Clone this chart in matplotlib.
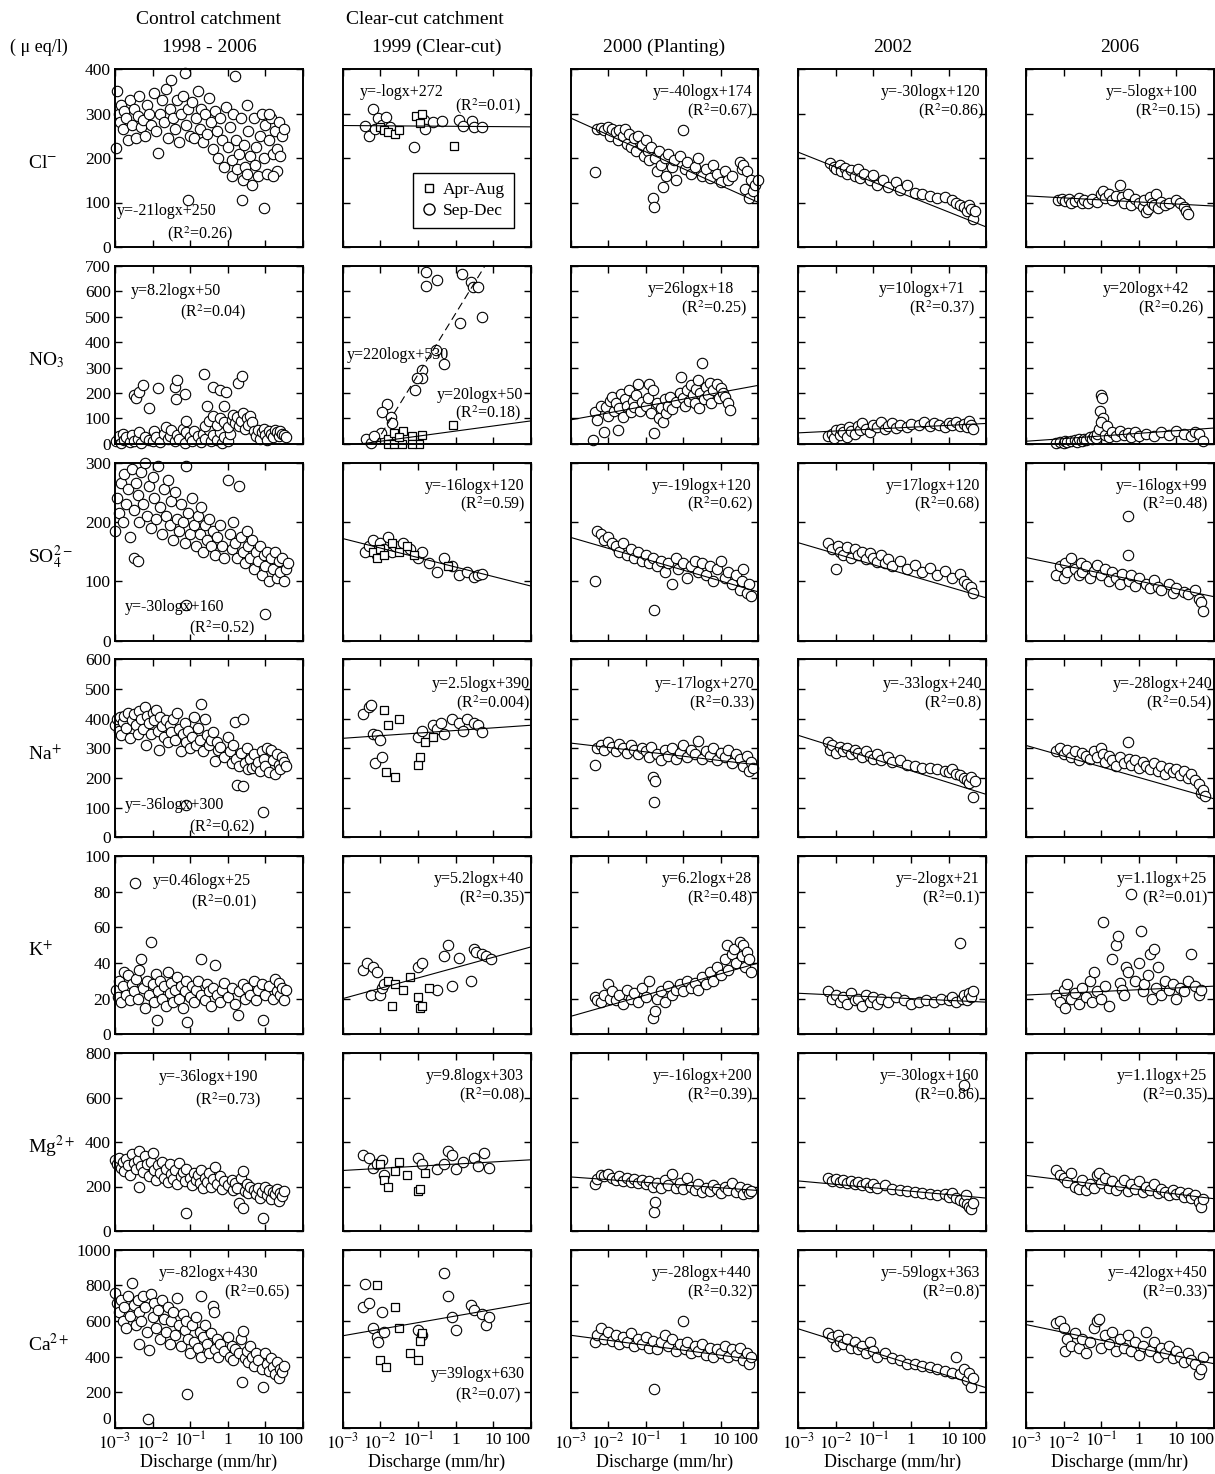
import numpy as np
import matplotlib
matplotlib.use("Agg")
import matplotlib.pyplot as plt
from matplotlib.lines import Line2D
from matplotlib.ticker import NullLocator

plt.rcParams['font.family'] = ['Liberation Serif', 'DejaVu Serif']
plt.rcParams['mathtext.fontset'] = 'stix'

# points are (log10 discharge, concentration in ueq/l)
# ---------------- Cl- ----------------
cl_control = [(-2.97,222),(-2.95,350),(-2.9,300),(-2.88,280),(-2.85,320),(-2.8,265),(-2.75,305),(-2.7,290),
              (-2.65,240),(-2.6,330),(-2.55,275),(-2.5,310),(-2.45,245),(-2.4,295),(-2.35,340),(-2.3,270),
              (-2.25,285),(-2.2,250),(-2.15,320),(-2.1,300),(-2.05,275),(-1.95,345),(-1.9,260),(-1.85,212),
              (-1.8,300),(-1.75,330),(-1.7,280),(-1.65,355),(-1.6,245),(-1.55,310),(-1.5,375),(-1.45,290),
              (-1.4,265),(-1.35,330),(-1.3,235),(-1.25,300),(-1.2,340),(-1.15,390),(-1.1,275),(-1.06,105),
              (-1.05,310),(-1.0,250),(-0.95,325),(-0.9,245),(-0.85,290),(-0.8,350),(-0.75,265),(-0.7,310),
              (-0.65,235),(-0.6,300),(-0.55,255),(-0.5,335),(-0.45,280),(-0.4,220),(-0.35,305),(-0.3,260),
              (-0.25,200),(-0.2,290),(-0.15,240),(-0.1,180),(-0.05,315),(0.0,225),(0.05,270),(0.1,195),
              (0.12,160),(0.15,300),(0.2,385),(0.22,240),(0.25,175),(0.3,210),(0.35,290),(0.37,105),
              (0.4,150),(0.42,230),(0.45,180),(0.5,320),(0.52,165),(0.55,260),(0.6,205),(0.65,140),
              (0.7,290),(0.72,185),(0.75,225),(0.8,160),(0.85,250),(0.9,300),(0.95,88),(0.95,200),
              (1.0,275),(1.05,165),(1.1,240),(1.15,290),(1.2,210),(1.25,260),(1.3,220),(1.32,170),
              (1.35,280),(1.4,205),(1.45,250),(1.5,265),(1.2,160),(1.1,300)]
cl_1999_sep = [(-2.4,272),(-2.3,250),(-2.2,310),(-2.15,265),(-2.05,290),(-1.95,275),(-1.85,292),(-1.75,270),
               (-1.1,224),(-0.85,285),(-0.8,265),(-0.6,280),(-0.35,283),(0.1,285),(0.2,272),(0.45,283),
               (0.5,270),(0.7,270)]
cl_1999_apr = [(-2.0,270),(-1.9,262),(-1.8,258),(-1.6,255),(-1.5,262),(-1.05,295),(-0.9,298),(-0.95,278),
               (-0.05,228)]
cl_2000 = [(-2.35,168),(-2.3,265),(-2.2,268),(-2.1,262),(-2.0,270),(-1.95,250),(-1.9,265),(-1.8,258),
           (-1.75,240),(-1.7,262),(-1.6,250),(-1.55,265),(-1.5,232),(-1.45,255),(-1.4,225),(-1.3,245),
           (-1.25,215),(-1.2,250),(-1.1,230),(-1.05,205),(-1.0,240),(-0.95,215),(-0.9,195),(-0.85,225),
           (-0.8,110),(-0.78,90),(-0.75,200),(-0.7,170),(-0.65,215),(-0.6,185),(-0.55,135),(-0.5,200),
           (-0.45,160),(-0.4,210),(-0.3,180),(-0.25,195),(-0.2,150),(-0.1,205),(0.0,263),(0.05,175),
           (0.1,190),(0.2,165),(0.3,180),(0.4,200),(0.5,160),(0.6,175),(0.7,155),(0.8,185),(0.9,165),
           (1.0,145),(1.1,170),(1.2,150),(1.3,160),(1.5,190),(1.55,175),(1.6,185),(1.65,130),(1.7,170),
           (1.75,110),(1.8,150),(1.85,125),(1.9,140),(2.0,150)]
cl_2002 = [(-2.15,188),(-2.05,180),(-2.0,175),(-1.9,185),(-1.85,170),(-1.75,178),(-1.7,165),(-1.6,172),
           (-1.5,160),(-1.4,175),(-1.35,155),(-1.25,165),(-1.1,150),(-1.0,162),(-0.9,140),(-0.75,150),
           (-0.6,135),(-0.4,145),(-0.3,128),(-0.1,140),(0.1,122),(0.3,118),(0.5,115),(0.7,110),(0.9,112),
           (1.1,105),(1.2,100),(1.3,95),(1.4,90),(1.5,82),(1.55,95),(1.6,85),(1.65,62),(1.7,80)]
cl_2006 = [(-2.15,105),(-2.05,107),(-1.95,104),(-1.85,108),(-1.8,100),(-1.7,103),(-1.6,110),(-1.5,98),
           (-1.45,105),(-1.35,100),(-1.25,108),(-1.1,102),(-1.0,118),(-0.95,125),(-0.9,110),(-0.8,120),
           (-0.7,105),(-0.6,115),(-0.5,140),(-0.45,112),(-0.4,100),(-0.3,120),(-0.2,95),(-0.1,108),
           (0.0,100),(0.1,90),(0.15,105),(0.2,78),(0.25,85),(0.3,112),(0.35,100),(0.4,95),(0.45,118),
           (0.5,88),(0.6,102),(0.7,95),(0.8,100),(1.0,105),(1.1,98),(1.2,90),(1.25,82),(1.3,75)]
# fitted lines, value at 10^-3 and at 10^2 (columns 1999..2006)
cl_fit = [(273, 270), (290, 100), (213, 45), (115, 92)]
cl_eq = ["y=-21logx+250", "y=-logx+272", "y=-40logx+174", "y=-30logx+120", "y=-5logx+100"]
cl_r2 = ["0.26", "0.01", "0.67", "0.86", "0.15"]

# ---------------- NO3- ----------------
no3_control = [(-2.98,10),(-2.9,30),(-2.85,5),(-2.8,40),(-2.75,15),(-2.7,25),(-2.6,8),(-2.55,35),(-2.5,12),
               (-2.4,20),(-2.35,45),(-2.3,5),(-2.2,28),(-2.1,15),(-2.0,10),(-1.95,50),(-1.9,25),(-1.8,8),
               (-1.7,40),(-1.65,65),(-1.6,18),(-1.55,30),(-1.5,55),(-1.4,10),(-1.35,35),(-1.3,20),(-1.2,60),
               (-1.15,5),(-1.1,45),(-1.0,25),(-0.95,12),(-0.9,50),(-0.8,30),(-0.7,8),(-0.65,40),(-0.6,20),
               (-0.5,55),(-0.45,10),(-0.4,35),(-0.3,15),(-0.2,45),(-0.15,5),(-0.1,25),(0.0,12),(0.05,40),
               (-2.5,190),(-2.45,182),(-2.35,205),(-2.25,230),(-2.1,140),(-1.85,220),(-1.4,225),(-1.35,250),
               (-1.38,178),(-1.15,195),(-1.12,88),(-0.62,275),(-0.55,150),(-0.4,225),(-0.2,210),(-0.1,150),
               (-0.05,205),(0.28,240),(0.38,265),
               (-0.6,70),(-0.5,90),(-0.4,110),(-0.3,75),(-0.2,100),(-0.1,85),(0.0,65),(0.1,95),(0.15,115),
               (0.2,80),(0.25,105),(0.3,70),(0.35,90),(0.4,120),(0.45,60),(0.5,100),(0.55,75),(0.6,110),
               (0.65,85),(0.7,50),(0.75,30),(0.8,55),(0.85,20),(0.9,45),(0.95,60),(1.0,35),(1.05,15),
               (1.1,50),(1.15,40),(1.2,25),(1.25,55),(1.3,45),(1.35,30),(1.4,50),(1.45,40),(1.5,35),(1.55,25)]
no3_1999_sep = [(-0.79,674),(-0.5,644),(-0.79,622),(0.18,668),(0.4,635),(0.47,615),(0.6,615),(0.13,475),
                (0.71,500),(-0.52,368),(-0.3,313),(-0.88,290),(-0.88,257),(-1.02,257),(-1.07,211),
                (-1.81,155),(-1.95,126),(-1.73,107),(-1.7,83),(-1.99,44),(-2.39,20),(-2.25,3),(-2.17,29)]
no3_1999_apr = [(-1.79,20),(-1.64,44),(-1.39,52),(-1.17,29),(-0.88,35),(-0.06,74),(-1.79,0),(-1.64,0),
                (-1.43,0),(-0.96,0),(-1.15,0),(-1.5,25)]
no3_2000 = [(-2.4,16),(-2.35,126),(-2.3,95),(-2.2,150),(-2.1,48),(-2.05,143),(-2.0,110),(-1.95,170),
            (-1.9,185),(-1.85,130),(-1.8,160),(-1.75,55),(-1.7,140),(-1.65,195),(-1.6,107),(-1.55,175),
            (-1.5,150),(-1.45,211),(-1.4,125),(-1.35,170),(-1.3,145),(-1.25,190),(-1.2,237),(-1.15,130),
            (-1.1,165),(-1.0,150),(-0.95,180),(-0.9,237),(-0.85,120),(-0.8,211),(-0.78,44),(-0.7,160),
            (-0.65,100),(-0.6,140),(-0.55,87),(-0.5,175),(-0.45,120),(-0.4,150),(-0.35,185),(-0.3,135),
            (-0.2,165),(-0.1,200),(-0.05,263),(0.0,180),(0.05,150),(0.1,210),(0.15,170),(0.2,230),
            (0.25,190),(0.3,160),(0.35,215),(0.4,250),(0.42,140),(0.45,200),(0.5,318),(0.55,175),
            (0.6,225),(0.65,190),(0.7,240),(0.75,160),(0.8,210),(0.9,235),(0.95,180),(1.0,220),
            (1.05,200),(1.1,185),(1.2,159),(1.25,133)]
no3_2002 = [(-2.2,30),(-2.1,40),(-2.05,22),(-2.0,55),(-1.9,35),(-1.85,60),(-1.8,45),(-1.7,28),(-1.65,65),
            (-1.6,50),(-1.5,40),(-1.4,70),(-1.35,55),(-1.3,80),(-1.2,60),(-1.1,48),(-1.0,75),(-0.9,65),
            (-0.8,85),(-0.7,58),(-0.6,70),(-0.5,80),(-0.4,62),(-0.3,75),(-0.1,68),(0.0,78),(0.2,72),
            (0.35,85),(0.5,70),(0.6,80),(0.75,75),(0.9,65),(1.0,80),(1.1,72),(1.2,85),(1.3,70),(1.4,78),
            (1.5,65),(1.55,88),(1.6,75),(1.65,60)]
no3_2006 = [(-2.2,5),(-2.1,8),(-2.0,3),(-1.95,12),(-1.9,6),(-1.8,10),(-1.7,15),(-1.65,8),(-1.6,18),
            (-1.5,12),(-1.45,20),(-1.4,15),(-1.3,25),(-1.25,18),(-1.2,30),(-1.15,22),(-1.1,40),(-1.05,60),
            (-1.0,190),(-0.98,180),(-1.02,130),(-0.95,100),(-1.0,85),(-0.9,35),(-0.85,70),(-0.8,28),
            (-0.7,45),(-0.6,30),(-0.5,50),(-0.4,35),(-0.3,42),(-0.2,25),(-0.1,48),(0.0,32),(0.2,40),
            (0.4,30),(0.6,45),(0.8,35),(1.0,50),(1.2,40),(1.4,30),(1.5,45),(1.6,38),(1.7,10)]
no3_fit = [(-10, 90), (94, 230), (43, 80), (10, 62)]
no3_1999_sep_fit = (-208, 992)
no3_eq = ["y=8.2logx+50", "y=20logx+50", "y=26logx+18", "y=10logx+71", "y=20logx+42"]
no3_r2 = ["0.04", "0.18", "0.25", "0.37", "0.26"]
no3_1999_sep_eq = "y=220logx+530"

# ---------------- SO4 2- ----------------
so4_control = [(-3.0,185),(-2.95,240),(-2.9,215),(-2.85,265),(-2.8,200),(-2.75,280),(-2.7,230),(-2.65,255),
               (-2.6,175),(-2.55,290),(-2.5,140),(-2.5,220),(-2.45,265),(-2.4,135),(-2.4,245),(-2.35,200),
               (-2.3,285),(-2.25,230),(-2.2,300),(-2.15,210),(-2.1,260),(-2.05,190),(-2.0,275),(-1.95,240),
               (-1.9,205),(-1.85,295),(-1.8,225),(-1.75,180),(-1.7,255),(-1.65,210),(-1.6,270),(-1.55,195),
               (-1.5,235),(-1.45,170),(-1.4,250),(-1.35,205),(-1.3,185),(-1.25,230),(-1.2,200),(-1.15,165),
               (-1.12,60),(-1.1,295),(-1.05,215),(-1.0,180),(-0.95,240),(-0.9,195),(-0.85,160),(-0.8,210),
               (-0.75,180),(-0.7,225),(-0.65,150),(-0.6,195),(-0.55,170),(-0.5,205),(-0.45,160),(-0.4,185),
               (-0.35,145),(-0.3,175),(-0.2,195),(-0.15,160),(-0.1,140),(0.0,270),(0.05,180),(0.1,155),
               (0.15,200),(0.2,165),(0.25,140),(0.3,260),(0.35,175),(0.4,150),(0.45,130),(0.5,185),
               (0.55,160),(0.6,140),(0.65,170),(0.7,120),(0.75,150),(0.8,135),(0.85,160),(0.9,110),
               (0.95,145),(1.0,45),(1.0,125),(1.05,150),(1.1,100),(1.15,140),(1.2,120),(1.25,150),
               (1.3,105),(1.35,135),(1.4,115),(1.45,140),(1.5,100),(1.55,120),(1.6,130)]
so4_1999_sep = [(-2.4,150),(-2.3,160),(-2.2,170),(-2.1,145),(-2.0,165),(-1.9,155),(-1.8,175),(-1.7,150),
                (-1.6,160),(-1.4,165),(-1.2,155),(-1.0,140),(-0.9,150),(-0.7,130),(-0.5,115),(-0.3,140),
                (-0.1,125),(0.1,110),(0.3,115),(0.5,108),(0.6,110),(0.7,112)]
so4_1999_apr = [(-2.2,150),(-2.1,140),(-2.0,155),(-1.9,145),(-1.7,165),(-1.5,150),(-1.3,160),(-1.1,145),
                (-0.2,125)]
so4_2000 = [(-2.35,100),(-2.3,185),(-2.2,180),(-2.1,170),(-2.0,175),(-1.9,165),(-1.8,160),(-1.7,150),
            (-1.6,165),(-1.5,145),(-1.4,155),(-1.3,140),(-1.2,150),(-1.1,135),(-1.0,145),(-0.9,130),
            (-0.8,140),(-0.77,52),(-0.7,125),(-0.6,135),(-0.5,115),(-0.4,130),(-0.3,95),(-0.2,140),
            (-0.15,120),(0.0,130),(0.1,105),(0.2,125),(0.3,135),(0.4,115),(0.5,130),(0.6,110),(0.7,125),
            (0.8,100),(0.9,120),(1.0,135),(1.1,105),(1.2,115),(1.3,95),(1.4,110),(1.5,85),(1.55,100),
            (1.6,120),(1.7,80),(1.75,95),(1.8,75)]
so4_2002 = [(-2.2,165),(-2.1,155),(-2.0,120),(-1.95,160),(-1.9,150),(-1.8,145),(-1.7,158),(-1.6,140),
            (-1.5,155),(-1.4,145),(-1.3,150),(-1.2,138),(-1.1,148),(-1.0,140),(-0.9,132),(-0.8,145),
            (-0.7,130),(-0.6,138),(-0.5,125),(-0.3,135),(-0.1,120),(0.1,128),(0.3,115),(0.5,122),
            (0.7,110),(0.9,118),(1.1,105),(1.3,112),(1.4,100),(1.5,95),(1.6,90),(1.65,80)]
so4_2006 = [(-2.2,110),(-2.1,125),(-2.0,105),(-1.95,130),(-1.9,115),(-1.8,140),(-1.7,120),(-1.6,110),
            (-1.55,130),(-1.5,115),(-1.4,125),(-1.3,105),(-1.2,118),(-1.1,128),(-1.0,110),(-0.9,120),
            (-0.8,100),(-0.7,115),(-0.6,105),(-0.5,95),(-0.45,112),(-0.3,210),(-0.3,145),(-0.25,100),
            (-0.2,110),(-0.1,92),(0.0,105),(0.2,95),(0.3,88),(0.4,102),(0.5,90),(0.6,85),(0.8,95),
            (0.9,80),(1.0,88),(1.2,82),(1.3,78),(1.5,85),(1.6,70),(1.65,65),(1.7,50)]
so4_fit = [(172, 92), (174, 82), (165, 72), (140, 74)]
so4_eq = ["y=-30logx+160", "y=-16logx+120", "y=-19logx+120", "y=17logx+120", "y=-16logx+99"]
so4_r2 = ["0.52", "0.59", "0.62", "0.68", "0.48"]

# ---------------- Na+ ----------------
na_control = [(-3.0,380),(-2.95,400),(-2.9,360),(-2.88,405),(-2.85,345),(-2.8,390),(-2.75,410),(-2.7,370),
              (-2.65,420),(-2.6,335),(-2.55,395),(-2.5,415),(-2.45,380),(-2.4,350),(-2.35,425),(-2.3,400),
              (-2.25,365),(-2.2,440),(-2.18,312),(-2.15,410),(-2.1,385),(-2.05,350),(-2.0,420),(-1.95,395),
              (-1.9,430),(-1.85,360),(-1.82,295),(-1.8,405),(-1.75,375),(-1.7,340),(-1.65,395),(-1.6,320),
              (-1.55,380),(-1.5,355),(-1.45,400),(-1.4,330),(-1.35,420),(-1.3,365),(-1.25,290),(-1.2,350),
              (-1.15,385),(-1.11,110),(-1.1,320),(-1.05,360),(-1.0,300),(-0.95,340),(-0.9,405),(-0.85,310),
              (-0.8,370),(-0.75,330),(-0.7,450),(-0.65,290),(-0.6,400),(-0.55,345),(-0.5,310),(-0.45,330),
              (-0.4,355),(-0.35,256),(-0.3,320),(-0.25,295),(-0.2,305),(-0.1,270),(0.0,340),(0.05,290),
              (0.1,250),(0.15,310),(0.2,390),(0.22,265),(0.25,175),(0.3,240),(0.35,285),(0.4,400),
              (0.4,172),(0.45,250),(0.5,300),(0.55,230),(0.6,265),(0.65,235),(0.7,280),(0.75,240),
              (0.8,255),(0.85,225),(0.9,290),(0.93,84),(0.95,265),(1.0,240),(1.05,300),(1.1,220),
              (1.15,295),(1.2,260),(1.25,215),(1.3,280),(1.35,245),(1.4,230),(1.45,270),(1.5,255),(1.55,240)]
na_1999_sep = [(-2.45,415),(-2.3,440),(-2.25,445),(-2.2,350),(-2.15,250),(-2.1,345),(-2.0,330),(-1.95,270),
               (-1.0,340),(-0.9,360),(-0.6,380),(-0.5,365),(-0.4,385),(-0.3,350),(-0.1,400),(0.1,385),
               (0.2,360),(0.3,400),(0.5,385),(0.6,380),(0.7,355)]
na_1999_apr = [(-1.9,430),(-1.85,220),(-1.8,380),(-1.6,205),(-1.5,400),(-1.0,245),(-0.95,270),(-0.8,320),
               (-0.6,340)]
na_2000 = [(-2.35,245),(-2.3,300),(-2.2,310),(-2.1,295),(-2.0,320),(-1.9,305),(-1.8,290),(-1.7,315),
           (-1.6,300),(-1.5,285),(-1.4,310),(-1.3,295),(-1.2,280),(-1.1,300),(-1.0,290),(-0.9,270),
           (-0.85,305),(-0.8,205),(-0.77,120),(-0.75,190),(-0.7,280),(-0.6,260),(-0.5,295),(-0.4,275),
           (-0.3,300),(-0.2,265),(-0.1,285),(0.0,310),(0.1,270),(0.2,295),(0.3,280),(0.4,325),(0.5,265),
           (0.6,290),(0.7,275),(0.8,300),(0.9,260),(1.0,285),(1.1,270),(1.2,295),(1.3,250),(1.4,280),
           (1.5,265),(1.6,240),(1.7,275),(1.75,225),(1.8,255),(1.85,235)]
na_2002 = [(-2.2,320),(-2.15,295),(-2.1,310),(-2.0,285),(-1.9,305),(-1.8,290),(-1.7,300),(-1.6,280),
           (-1.5,295),(-1.4,285),(-1.3,270),(-1.2,290),(-1.1,275),(-1.0,265),(-0.9,280),(-0.8,260),
           (-0.6,270),(-0.5,255),(-0.3,260),(-0.1,245),(0.1,240),(0.3,235),(0.5,235),(0.7,230),(0.9,225),
           (1.0,220),(1.1,230),(1.2,215),(1.3,210),(1.4,200),(1.5,195),(1.55,185),(1.6,205),(1.65,135),
           (1.7,190)]
na_2006 = [(-2.2,290),(-2.1,300),(-2.0,280),(-1.9,295),(-1.8,270),(-1.7,290),(-1.6,260),(-1.5,285),
           (-1.4,275),(-1.3,265),(-1.2,290),(-1.1,270),(-1.0,300),(-0.95,280),(-0.9,255),(-0.8,275),
           (-0.7,260),(-0.6,240),(-0.5,270),(-0.4,250),(-0.3,320),(-0.25,265),(-0.2,245),(-0.1,260),
           (0.0,235),(0.1,255),(0.2,240),(0.3,230),(0.4,250),(0.5,225),(0.6,240),(0.7,215),(0.8,235),
           (0.9,220),(1.0,230),(1.1,210),(1.2,225),(1.3,200),(1.4,215),(1.5,195),(1.6,180),(1.65,150),
           (1.7,160),(1.75,140)]
na_fit = [(334, 378), (318, 244), (344, 145), (310, 130)]
na_eq = ["y=-36logx+300", "y=2.5logx+390", "y=-17logx+270", "y=-33logx+240", "y=-28logx+240"]
na_r2 = ["0.62", "0.004", "0.33", "0.8", "0.54"]

# ---------------- K+ ----------------
k_control = [(-2.97,25),(-2.93,21),(-2.9,30),(-2.85,18),(-2.8,27),(-2.75,35),(-2.7,22),(-2.65,33),(-2.6,19),
             (-2.55,28),(-2.5,24),(-2.47,85),(-2.45,31),(-2.4,20),(-2.35,36),(-2.3,42),(-2.25,26),(-2.2,15),
             (-2.15,30),(-2.1,22),(-2.05,52),(-2.0,28),(-1.95,18),(-1.9,34),(-1.88,8),(-1.85,24),(-1.8,30),
             (-1.75,20),(-1.7,27),(-1.65,16),(-1.6,35),(-1.55,23),(-1.5,29),(-1.45,18),(-1.4,25),(-1.35,32),
             (-1.3,20),(-1.25,27),(-1.2,15),(-1.15,24),(-1.1,30),(-1.08,7),(-1.0,21),(-0.95,27),(-0.9,18),
             (-0.85,25),(-0.8,30),(-0.71,42),(-0.7,22),(-0.6,19),(-0.55,28),(-0.5,24),(-0.45,16),(-0.4,26),
             (-0.35,39),(-0.3,22),(-0.2,18),(-0.15,25),(-0.1,29),(0.0,21),(0.1,26),(0.2,17),(0.27,11),
             (0.3,24),(0.4,28),(0.45,20),(0.5,26),(0.6,22),(0.7,30),(0.75,19),(0.8,25),(0.9,28),(0.93,8),
             (1.0,22),(1.1,27),(1.2,20),(1.25,31),(1.3,24),(1.35,29),(1.4,22),(1.45,26),(1.5,19),(1.55,25)]
k_1999_sep = [(-2.45,36),(-2.35,40),(-2.25,22),(-2.2,38),(-2.1,35),(-2.0,22),(-1.95,26),(-1.9,28),
              (-1.0,38),(-0.9,40),(-0.5,25),(-0.3,44),(-0.2,50),(-0.1,27),(0.1,43),(0.4,30),(0.5,48),
              (0.55,46),(0.7,45),(0.8,44),(0.95,42)]
k_1999_apr = [(-1.8,30),(-1.7,16),(-1.6,28),(-1.4,25),(-1.2,32),(-1.0,21),(-0.95,15),(-0.9,16),(-0.7,26)]
k_2000 = [(-2.35,21),(-2.3,19),(-2.2,18),(-2.1,22),(-2.0,28),(-1.95,20),(-1.9,24),(-1.8,19),(-1.7,22),
          (-1.6,17),(-1.5,25),(-1.4,20),(-1.3,23),(-1.2,18),(-1.1,26),(-1.0,21),(-0.9,30),(-0.8,9),
          (-0.75,13),(-0.7,20),(-0.6,24),(-0.5,18),(-0.4,27),(-0.3,22),(-0.2,25),(-0.1,28),(0.0,24),
          (0.1,30),(0.2,26),(0.3,29),(0.4,25),(0.5,32),(0.6,28),(0.7,35),(0.8,30),(0.9,38),(1.0,33),
          (1.1,42),(1.15,50),(1.2,36),(1.3,45),(1.35,48),(1.4,40),(1.5,52),(1.55,44),(1.6,50),(1.65,38),
          (1.7,46),(1.75,42),(1.8,35)]
k_2002 = [(-2.2,24),(-2.1,20),(-2.0,22),(-1.9,18),(-1.8,21),(-1.7,17),(-1.6,23),(-1.5,19),(-1.4,20),
          (-1.3,16),(-1.2,22),(-1.1,18),(-1.0,21),(-0.9,17),(-0.8,20),(-0.6,18),(-0.4,21),(-0.2,19),
          (0.0,17),(0.2,18),(0.4,19),(0.6,18),(0.8,20),(1.0,19),(1.1,21),(1.2,18),(1.3,51),(1.35,20),
          (1.4,22),(1.5,19),(1.55,23),(1.6,21),(1.65,24)]
k_2006 = [(-2.2,22),(-2.1,18),(-2.0,25),(-1.95,15),(-1.9,28),(-1.8,20),(-1.7,23),(-1.6,17),(-1.5,26),
          (-1.4,21),(-1.3,30),(-1.25,18),(-1.2,35),(-1.1,24),(-1.0,20),(-0.95,63),(-0.9,27),(-0.8,16),
          (-0.7,42),(-0.6,50),(-0.55,55),(-0.5,29),(-0.45,25),(-0.4,22),(-0.35,38),(-0.3,35),(-0.2,79),
          (-0.1,30),(0.0,40),(0.05,58),(0.1,24),(0.15,28),(0.25,33),(0.3,45),(0.35,20),(0.4,48),
          (0.45,26),(0.5,38),(0.6,22),(0.7,30),(0.8,25),(0.9,28),(1.0,20),(1.1,26),(1.2,24),(1.3,30),
          (1.4,45),(1.5,27),(1.6,22),(1.65,25)]
k_fit = [(20, 49), (10, 40), (23, 18), (22, 27)]
k_eq = ["y=0.46logx+25", "y=5.2logx+40", "y=6.2logx+28", "y=-2logx+21", "y=1.1logx+25"]
k_r2 = ["0.01", "0.35", "0.48", "0.1", "0.01"]

# ---------------- Mg2+ ----------------
mg_control = [(-3.0,320),(-2.95,300),(-2.9,330),(-2.85,285),(-2.8,310),(-2.75,270),(-2.7,325),(-2.65,295),
              (-2.6,250),(-2.55,345),(-2.5,305),(-2.45,280),(-2.4,320),(-2.37,200),(-2.35,360),(-2.3,290),
              (-2.25,265),(-2.2,335),(-2.15,300),(-2.1,245),(-2.05,310),(-2.0,350),(-1.95,275),(-1.9,230),
              (-1.85,295),(-1.8,260),(-1.75,310),(-1.7,240),(-1.65,280),(-1.6,220),(-1.55,300),(-1.5,255),
              (-1.45,235),(-1.4,275),(-1.35,210),(-1.3,305),(-1.25,245),(-1.2,265),(-1.15,225),(-1.11,79),
              (-1.1,280),(-1.0,240),(-0.95,205),(-0.9,260),(-0.85,230),(-0.8,250),(-0.75,215),(-0.7,275),
              (-0.65,195),(-0.6,240),(-0.55,220),(-0.5,260),(-0.45,200),(-0.4,235),(-0.35,287),(-0.3,210),
              (-0.2,245),(-0.15,190),(-0.1,225),(0.0,205),(0.1,230),(0.15,185),(0.2,215),(0.25,195),
              (0.3,127),(0.35,240),(0.4,268),(0.4,104),(0.45,180),(0.5,210),(0.55,170),(0.6,200),(0.7,185),
              (0.75,165),(0.8,195),(0.85,150),(0.9,175),(0.93,60),(1.0,200),(1.05,160),(1.1,185),(1.15,145),
              (1.2,175),(1.25,165),(1.3,190),(1.35,135),(1.4,170),(1.45,156),(1.5,180)]
mg_1999_sep = [(-2.45,340),(-2.3,330),(-2.2,285),(-2.1,300),(-1.95,320),(-1.9,250),(-1.0,330),(-0.9,300),
               (-0.5,280),(-0.3,300),(-0.2,360),(-0.1,340),(0.0,280),(0.2,310),(0.5,330),(0.6,290),
               (0.75,350),(0.9,285)]
mg_1999_apr = [(-2.0,300),(-1.9,230),(-1.8,200),(-1.6,270),(-1.5,310),(-1.3,250),(-1.0,180),(-0.95,190),
               (-0.8,260)]
mg_2000 = [(-2.35,210),(-2.3,235),(-2.2,250),(-2.1,245),(-2.0,255),(-1.9,240),(-1.8,230),(-1.7,245),
           (-1.6,225),(-1.5,238),(-1.4,220),(-1.3,235),(-1.2,215),(-1.1,230),(-1.0,210),(-0.9,225),
           (-0.8,200),(-0.77,85),(-0.75,130),(-0.7,215),(-0.6,195),(-0.5,230),(-0.4,205),(-0.3,255),
           (-0.2,195),(-0.1,215),(0.0,190),(0.1,240),(0.2,200),(0.3,185),(0.4,210),(0.5,175),(0.6,195),
           (0.7,180),(0.8,205),(0.9,190),(1.0,170),(1.1,200),(1.2,185),(1.3,215),(1.4,175),(1.5,200),
           (1.6,165),(1.7,190),(1.75,170),(1.8,180)]
mg_2002 = [(-2.2,240),(-2.1,225),(-2.0,235),(-1.9,220),(-1.8,230),(-1.7,215),(-1.6,225),(-1.5,210),
           (-1.4,220),(-1.3,205),(-1.2,215),(-1.1,200),(-1.0,210),(-0.9,195),(-0.7,205),(-0.5,190),
           (-0.3,185),(-0.1,180),(0.1,175),(0.3,170),(0.5,165),(0.7,160),(0.9,165),(1.0,155),(1.1,170),
           (1.2,150),(1.3,140),(1.4,130),(1.45,160),(1.5,120),(1.55,110),(1.6,100),(1.65,125),(1.4,655)]
mg_2006 = [(-2.2,275),(-2.1,250),(-2.0,240),(-1.9,220),(-1.8,260),(-1.7,200),(-1.6,190),(-1.5,230),
           (-1.4,185),(-1.3,210),(-1.2,195),(-1.1,250),(-1.05,260),(-1.0,215),(-0.9,240),(-0.8,195),
           (-0.7,225),(-0.6,185),(-0.5,205),(-0.4,230),(-0.3,180),(-0.2,210),(-0.1,190),(0.0,225),
           (0.1,175),(0.2,200),(0.3,185),(0.4,210),(0.5,170),(0.6,190),(0.7,175),(0.8,160),(0.9,185),
           (1.0,165),(1.1,175),(1.2,155),(1.3,170),(1.4,150),(1.5,160),(1.6,130),(1.65,110),(1.7,145)]
mg_fit = [(272, 320), (243, 182), (225, 148), (250, 145)]
mg_eq = ["y=-36logx+190", "y=9.8logx+303", "y=-16logx+200", "y=-30logx+160", "y=1.1logx+25"]
mg_r2 = ["0.73", "0.08", "0.39", "0.86", "0.35"]

# ---------------- Ca2+ ----------------
ca_control = [(-3.0,760),(-2.95,700),(-2.9,650),(-2.85,720),(-2.8,600),(-2.75,680),(-2.7,560),(-2.65,740),
              (-2.6,630),(-2.55,816),(-2.5,690),(-2.45,580),(-2.4,720),(-2.37,470),(-2.35,650),(-2.3,600),
              (-2.25,740),(-2.2,680),(-2.15,540),(-2.12,50),(-2.1,436),(-2.05,750),(-2.0,620),(-1.95,700),
              (-1.9,560),(-1.85,660),(-1.8,500),(-1.75,720),(-1.7,610),(-1.65,540),(-1.6,680),(-1.55,470),
              (-1.5,600),(-1.45,650),(-1.4,520),(-1.35,732),(-1.3,580),(-1.25,460),(-1.2,640),(-1.15,550),
              (-1.1,600),(-1.09,190),(-1.05,500),(-1.0,420),(-0.95,580),(-0.9,480),(-0.85,620),(-0.8,450),
              (-0.75,540),(-0.71,742),(-0.7,400),(-0.65,510),(-0.6,580),(-0.55,470),(-0.5,420),(-0.45,530),
              (-0.4,685),(-0.37,648),(-0.35,440),(-0.3,500),(-0.25,400),(-0.2,470),(-0.1,430),(0.0,510),
              (0.05,400),(0.1,460),(0.15,380),(0.2,440),(0.3,420),(0.35,500),(0.37,255),(0.4,545),(0.45,390),
              (0.5,430),(0.55,370),(0.6,460),(0.65,400),(0.7,350),(0.75,420),(0.8,380),(0.9,330),(0.93,230),
              (1.0,420),(1.05,360),(1.1,320),(1.15,390),(1.2,340),(1.25,300),(1.3,370),(1.35,280),(1.4,330),
              (1.45,316),(1.5,350)]
ca_1999_sep = [(-2.45,680),(-2.4,810),(-2.3,700),(-2.2,560),(-2.1,510),(-2.05,480),(-1.95,650),(-1.9,540),
               (-1.0,550),(-0.9,520),(-0.3,870),(-0.2,740),(-0.1,620),(0.0,550),(0.4,690),(0.5,660),
               (0.7,640),(0.8,580),(0.9,620)]
ca_1999_apr = [(-2.1,800),(-2.0,380),(-1.85,340),(-1.6,680),(-1.2,420),(-1.0,380),(-0.95,490),(-0.9,530),
               (-1.5,560)]
ca_2000 = [(-2.35,480),(-2.3,520),(-2.2,560),(-2.1,500),(-2.0,540),(-1.9,490),(-1.8,520),(-1.7,470),
           (-1.6,510),(-1.5,480),(-1.4,530),(-1.3,460),(-1.2,500),(-1.1,470),(-1.0,510),(-0.9,450),
           (-0.8,490),(-0.77,220),(-0.7,440),(-0.6,480),(-0.5,520),(-0.4,460),(-0.3,500),(-0.2,430),
           (-0.1,470),(0.0,600),(0.05,440),(0.1,480),(0.2,420),(0.3,460),(0.4,430),(0.5,470),(0.6,410),
           (0.7,450),(0.8,400),(0.9,440),(1.0,420),(1.1,460),(1.2,400),(1.3,440),(1.4,410),(1.5,450),
           (1.6,380),(1.7,420),(1.75,360),(1.8,400)]
ca_2002 = [(-2.2,530),(-2.1,510),(-2.0,460),(-1.95,520),(-1.9,490),(-1.8,470),(-1.7,500),(-1.6,450),
           (-1.5,480),(-1.4,440),(-1.3,460),(-1.2,420),(-1.1,480),(-1.0,430),(-0.9,400),(-0.7,420),
           (-0.5,390),(-0.3,380),(-0.1,360),(0.1,360),(0.3,350),(0.5,340),(0.7,330),(0.9,320),(1.1,310),
           (1.2,400),(1.3,300),(1.4,330),(1.5,270),(1.55,310),(1.6,230),(1.65,280)]
ca_2006 = [(-2.2,590),(-2.1,600),(-2.0,560),(-1.95,430),(-1.9,500),(-1.8,460),(-1.7,530),(-1.6,450),
           (-1.5,500),(-1.4,420),(-1.3,480),(-1.2,560),(-1.1,600),(-1.05,610),(-1.0,450),(-0.9,520),
           (-0.8,470),(-0.7,540),(-0.6,430),(-0.5,500),(-0.4,450),(-0.3,520),(-0.2,430),(-0.1,480),
           (0.0,410),(0.1,460),(0.2,540),(0.3,430),(0.4,480),(0.5,400),(0.6,450),(0.7,420),(0.8,460),
           (0.9,390),(1.0,430),(1.1,400),(1.2,370),(1.3,420),(1.4,380),(1.5,360),(1.6,300),(1.65,330),
           (1.7,400)]
ca_fit = [(517, 702), (520, 380), (556, 225), (580, 360)]
ca_eq = ["y=-82logx+430", "y=39logx+630", "y=-28logx+440", "y=-59logx+363", "y=-42logx+450"]
ca_r2 = ["0.65", "0.07", "0.32", "0.8", "0.33"]

ion_labels = ["Cl$^{-}$", "NO$_{3}$", "SO$_{4}^{2-}$", "Na$^{+}$", "K$^{+}$", "Mg$^{2+}$", "Ca$^{2+}$"]
y_max = [400, 700, 300, 600, 100, 800, 1000]
y_step = [100, 100, 100, 100, 20, 200, 200]
col_titles = ["1998 - 2006", "1999 (Clear-cut)", "2000 (Planting)", "2002", "2006"]
x_ticklabels = ["$10^{-3}$", "$10^{-2}$", "$10^{-1}$", "1", "10", "100"]

circles = [[cl_control, cl_1999_sep, cl_2000, cl_2002, cl_2006],
           [no3_control, no3_1999_sep, no3_2000, no3_2002, no3_2006],
           [so4_control, so4_1999_sep, so4_2000, so4_2002, so4_2006],
           [na_control, na_1999_sep, na_2000, na_2002, na_2006],
           [k_control, k_1999_sep, k_2000, k_2002, k_2006],
           [mg_control, mg_1999_sep, mg_2000, mg_2002, mg_2006],
           [ca_control, ca_1999_sep, ca_2000, ca_2002, ca_2006]]
squares = [cl_1999_apr, no3_1999_apr, so4_1999_apr, na_1999_apr, k_1999_apr, mg_1999_apr, ca_1999_apr]
fits = [cl_fit, no3_fit, so4_fit, na_fit, k_fit, mg_fit, ca_fit]
eqs = [cl_eq, no3_eq, so4_eq, na_eq, k_eq, mg_eq, ca_eq]
r2s = [cl_r2, no3_r2, so4_r2, na_r2, k_r2, mg_r2, ca_r2]

# text placement (axes fraction): eq x, eq y, eq ha, r2 x, r2 y, r2 ha
R = 'right'
std = (0.965, 0.87, R, 0.97, 0.765, R)
text_pos = [
    [(0.01, 0.20, 'left', 0.45, 0.07, 'center'), (0.09, 0.87, 'left', 0.95, 0.79, R),
     (0.97, 0.87, R, 0.97, 0.765, R), (0.97, 0.87, R, 0.99, 0.765, R), (0.91, 0.87, R, 0.93, 0.765, R)],
    [(0.085, 0.86, 'left', 0.52, 0.74, 'center'), (0.96, 0.275, R, 0.95, 0.17, R),
     (0.87, 0.87, R, 0.94, 0.765, R), (0.89, 0.87, R, 0.94, 0.765, R), (0.87, 0.87, R, 0.95, 0.765, R)],
    [(0.05, 0.19, 'left', 0.57, 0.07, 'center'), std, std, std, std],
    [(0.05, 0.18, 'left', 0.57, 0.06, 'center'), (0.995, 0.86, R, 0.995, 0.755, R),
     (0.98, 0.86, R, 0.98, 0.755, R), (0.98, 0.86, R, 0.98, 0.755, R), (0.99, 0.86, R, 0.99, 0.755, R)],
    [(0.2, 0.86, 'left', 0.58, 0.74, 'center'), std, std, std, std],
    [(0.5, 0.865, 'center', 0.6, 0.735, 'center'), std, std, std, std],
    [(0.5, 0.87, 'center', 0.93, 0.765, R), (0.97, 0.30, R, 0.95, 0.185, R), std, std, std],
]

W, H = 1215, 1474
fig = plt.figure(figsize=(W / 100, H / 100), dpi=100)

circ_style = dict(marker='o', ls='none', ms=7.5, mfc='white', mec='black', mew=0.8, clip_on=False, zorder=2)
sq_style = dict(marker='s', ls='none', ms=5.5, mfc='white', mec='black', mew=0.9, clip_on=False, zorder=2)
txt_size = 11.5

for r in range(7):
    for c in range(5):
        left = 115 + c * 227.75
        top = 69 + r * 196.8
        ax = fig.add_axes([left / W, 1 - (top + 178) / H, 188 / W, 178 / H])
        ax.set_xscale('log')

        pts = np.array(circles[r][c])
        ax.plot(10 ** pts[:, 0], pts[:, 1], **circ_style)
        if c == 1:
            sq = np.array(squares[r])
            ax.plot(10 ** sq[:, 0], sq[:, 1], **sq_style)
        if c > 0:
            y0, y1 = fits[r][c - 1]
            ax.plot([1e-3, 1e2], [y0, y1], color='black', lw=0.8, zorder=3)
        if r == 1 and c == 1:
            y0, y1 = no3_1999_sep_fit
            ax.plot([1e-3, 1e2], [y0, y1], color='black', lw=0.8, ls=(0, (7, 4)), zorder=3)
            ax.text(0.02, 0.5, no3_1999_sep_eq, transform=ax.transAxes, fontsize=txt_size,
                    va='center', ha='left')

        ex, ey, eha, rx, ry, rha = text_pos[r][c]
        ax.text(ex, ey, eqs[r][c], transform=ax.transAxes, fontsize=txt_size, ha=eha, va='center', zorder=4)
        ax.text(rx, ry, "(R$^{2}$=" + r2s[r][c] + ")", transform=ax.transAxes, fontsize=txt_size,
                ha=rha, va='center', zorder=4)

        ax.set_xlim(1e-3, 1e2)
        ax.set_ylim(0, y_max[r])
        ax.set_xticks([1e-3, 1e-2, 1e-1, 1, 10, 100])
        ax.xaxis.set_minor_locator(NullLocator())
        ax.set_yticks(np.arange(0, y_max[r] + 1, y_step[r]))
        ax.tick_params(direction='in', top=True, right=True, length=5, width=1,
                       labelsize=12.5, pad=3)
        for s in ax.spines.values():
            s.set_linewidth(1.4)

        if c == 0:
            ax.set_yticklabels([str(v) for v in np.arange(0, y_max[r] + 1, y_step[r])])
            if r == 6:
                ax.get_yticklabels()[0].set_va('bottom')
            fig.text(28 / W, 1 - (top + 178 * 0.53) / H, ion_labels[r], fontsize=14,
                     ha='left', va='center')
        else:
            ax.set_yticklabels([])
        if r == 6:
            ax.set_xticklabels(x_ticklabels)
            ax.get_xticklabels()[-1].set_ha('right')
            ax.set_xlabel("Discharge (mm/hr)", fontsize=13, labelpad=1)
        else:
            ax.set_xticklabels([])

        if r == 0:
            fig.text((left + 94) / W, 1 - 47 / H, col_titles[c], fontsize=14, ha='center', va='center')
        if r == 0 and c == 1:
            handles = [Line2D([], [], marker='s', ls='none', ms=6, mfc='white', mec='black'),
                       Line2D([], [], marker='o', ls='none', ms=8, mfc='white', mec='black')]
            leg = ax.legend(handles, ["Apr-Aug", "Sep-Dec"], loc='lower right',
                            bbox_to_anchor=(0.955, 0.06), fontsize=12.5, frameon=True,
                            fancybox=False, edgecolor='black', framealpha=1,
                            handlelength=0.8, handletextpad=0.4, borderpad=0.5, labelspacing=0.3)
            leg.get_frame().set_linewidth(1.0)

fig.text(209 / W, 1 - 20 / H, "Control catchment", fontsize=14, ha='center', va='center')
fig.text(346 / W, 1 - 20 / H, "Clear-cut catchment", fontsize=14, ha='left', va='center')
fig.text(10 / W, 1 - 47 / H, "( \u03bc eq/l)", fontsize=13, ha='left', va='center')

fig.savefig("out.png", dpi=100)
